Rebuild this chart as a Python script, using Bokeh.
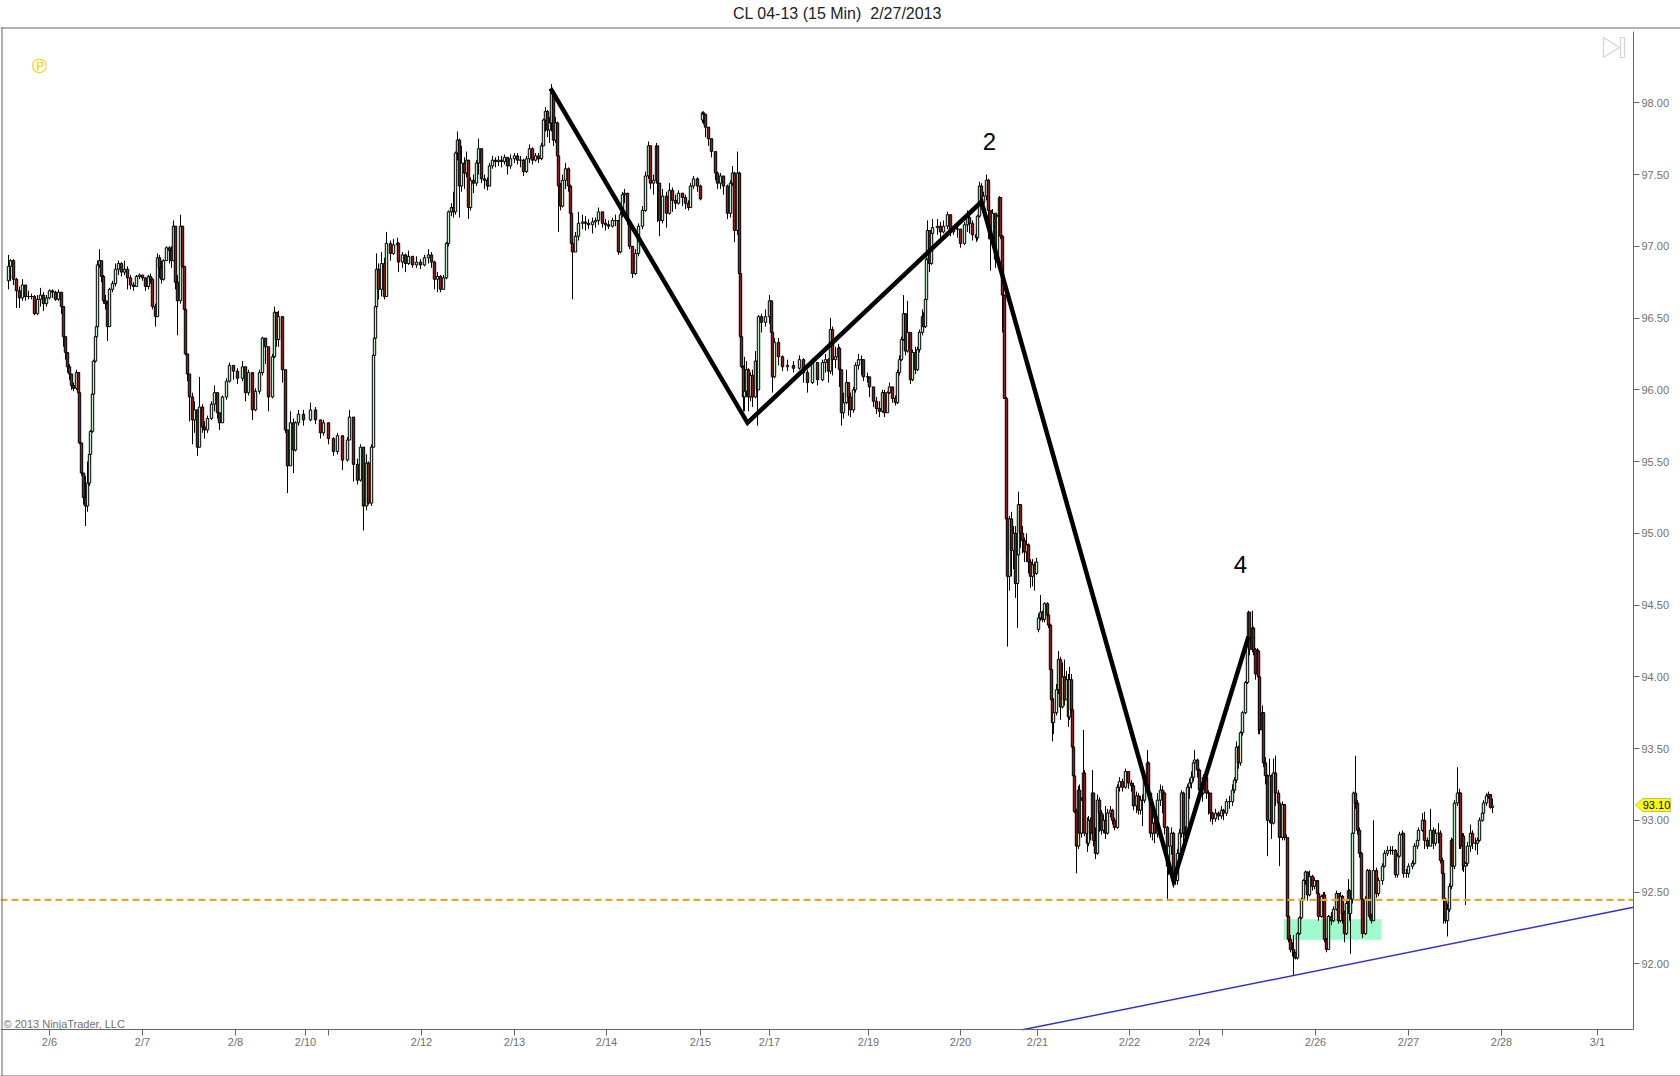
from bokeh.plotting import figure
from bokeh.models import (Range1d, FixedTicker, NumeralTickFormatter, Label, BoxAnnotation,
                          PolyAnnotation, ColumnDataSource, LinearAxis)
from bokeh.embed import file_html
from bokeh.resources import INLINE

TITLE = "CL 04-13 (15 Min)\u00a0 2/27/2013"
COPY = "\u00a9 2013 NinjaTrader, LLC"

tick_pos = [49,142,235,305,328,421,514,606,700,769,868,960,1037,1129,1199,1222,1315,1408,1501,1597]
tick_txt = ["2/6","2/7","2/8","2/10","","2/12","2/13","2/14","2/15","2/17","2/19","2/20","2/21","2/22","2/24","","2/26","2/27","2/28","3/1"]
price_ticks = [92.0,92.5,93.0,93.5,94.0,94.5,95.0,95.5,96.0,96.5,97.0,97.5,98.0]

a_open = 96.76
a_x = [8,10,13,16,19,22,25,28,31,34, 37,40,43,46,49,52,55,58,61,63, 65,67,69,71,73,76,78,79,81,83,
 85,87,89,90,92,93,95,96,97,99, 101,103,105,107,109,112,115,118,121,124, 127,130,133,136,139,142,145,148,150,152,
 155,157,159,161,163,166,169,171,173,175, 177,180,182,184,185,187,189,192,194,197, 199,202,204,207,211,214,217,219,222,226,
 229,233,237,242,245,248,252,255,259,262, 265,268,272,274,276,278,282,285,287,290, 293,295,298,303,310,315,320,323,328,333,
 337,342,347,349,353,357,360,363,366,368, 371,373,374,375,376,378,381,384,386,390, 393,397,398,402,405,408,412,416,420,424,
 428,431,434,437,440,443,446,448,451,453, 455,457,459,461,464,466,468,470,473,476, 478,481,484,487,489,492,495,498,501,504,
 507,510,514,517,520,523,526,529,532,535, 538,541,543,545,547,549,551,553,555,557, 558,560,562,565,568,570,571,572,575,578,
 582,585,588,592,595,598,602,605,608,612, 615,618,620,622,624,627,629,632,635,638, 642,645,648,650,653,656,657,659,662,666,
 669,672,675,678,682,685,688,690,693,697, 700]
a_close = [96.86,96.90,96.77,96.69,96.64,96.73,96.65,96.65,96.65,96.53, 96.63,96.66,96.60,96.64,96.69,96.68,96.63,96.68,96.58,96.37,
 96.26,96.16,96.11,96.03,96.01,96.12,95.98,95.63,95.42,95.25, 95.19,95.35,95.55,95.71,95.97,96.20,96.37,96.44,96.87,96.90,
 96.79,96.62,96.60,96.44,96.70,96.74,96.84,96.88,96.82,96.84, 96.78,96.73,96.72,96.79,96.80,96.78,96.72,96.79,96.77,96.58,
 96.51,96.92,96.85,96.77,96.90,96.99,96.97,96.90,97.14,96.75, 96.62,97.14,96.86,96.56,96.25,96.11,95.95,95.79,95.86,95.60,
 95.88,95.74,95.72,95.80,95.90,95.98,95.84,95.77,95.95,96.06, 96.17,96.13,96.08,96.16,95.98,96.12,95.86,95.99,96.12,96.36,
 96.30,95.95,96.23,96.54,96.35,96.51,96.14,95.72,95.47,95.77, 95.58,95.77,95.83,95.79,95.86,95.79,95.70,95.77,95.66,95.57,
 95.68,95.51,95.65,95.81,95.48,95.37,95.60,95.19,95.49,95.21, 95.60,96.24,96.36,96.58,96.84,96.70,96.88,96.65,97.02,96.95,
 97.01,97.02,96.89,96.94,96.88,96.93,96.87,96.89,96.87,96.92, 96.94,96.89,96.77,96.79,96.70,96.78,97.02,97.24,97.27,97.24,
 97.65,97.74,97.42,97.58,97.51,97.60,97.27,97.46,97.44,97.58, 97.68,97.47,97.46,97.42,97.56,97.60,97.59,97.60,97.59,97.62,
 97.56,97.61,97.63,97.60,97.60,97.52,97.61,97.68,97.60,97.63, 97.61,97.70,97.88,97.94,97.81,97.86,98.07,97.74,97.86,97.63,
 97.42,97.28,97.46,97.54,97.42,97.23,97.02,96.96,97.07,97.16, 97.17,97.16,97.15,97.17,97.18,97.24,97.16,97.15,97.14,97.18,
 97.18,96.96,97.22,97.36,97.37,97.18,97.00,96.81,96.95,97.14, 97.25,97.49,97.70,97.44,97.46,97.70,97.44,97.18,97.35,97.23,
 97.39,97.32,97.30,97.37,97.34,97.30,97.27,97.42,97.47,97.42, 97.33]
a_high = [96.94,96.91,96.91,96.78,96.72,96.77,96.73,96.69,96.67,96.66, 96.66,96.71,96.68,96.66,96.70,96.70,96.69,96.70,96.68,96.58,
 96.37,96.26,96.18,96.11,96.05,96.14,96.11,95.98,95.63,95.40, 95.40,95.50,95.56,95.72,95.98,96.21,96.38,96.45,96.90,96.98,
 96.90,96.80,96.66,96.62,96.71,96.76,96.88,96.90,96.89,96.90, 96.86,96.80,96.75,96.80,96.81,96.80,96.78,96.80,96.81,96.78,
 96.60,96.95,96.94,96.90,96.91,97.00,97.00,97.00,97.18,97.14, 96.80,97.22,97.14,96.86,96.56,96.25,96.11,95.98,95.92,95.86,
 96.09,95.90,95.78,95.82,95.92,96.03,95.98,95.84,95.96,96.08, 96.19,96.17,96.15,96.20,96.16,96.14,96.12,96.01,96.14,96.37,
 96.36,96.30,96.25,96.58,96.54,96.55,96.51,96.14,95.72,95.85, 95.80,95.78,95.86,95.86,95.91,95.88,95.79,95.79,95.77,95.67,
 95.70,95.68,95.67,95.86,95.81,95.52,95.62,95.60,95.55,95.50, 95.62,96.25,96.37,96.59,96.95,96.88,96.96,96.92,97.10,97.04,
 97.05,97.06,97.03,96.96,96.95,96.97,96.93,96.93,96.91,96.94, 96.98,96.96,96.90,96.82,96.80,96.80,97.03,97.25,97.30,97.38,
 97.66,97.80,97.75,97.70,97.62,97.66,97.60,97.48,97.50,97.60, 97.75,97.68,97.50,97.48,97.58,97.63,97.62,97.63,97.63,97.64,
 97.62,97.64,97.65,97.65,97.63,97.61,97.63,97.71,97.69,97.65, 97.65,97.72,97.89,97.97,97.95,97.90,98.13,98.07,97.90,97.87,
 97.63,97.44,97.50,97.58,97.55,97.43,97.24,97.03,97.10,97.24, 97.22,97.21,97.19,97.20,97.20,97.27,97.24,97.19,97.18,97.20,
 97.22,97.18,97.24,97.38,97.40,97.37,97.18,97.00,96.98,97.16, 97.28,97.52,97.73,97.70,97.50,97.72,97.70,97.44,97.40,97.38,
 97.44,97.41,97.36,97.39,97.37,97.36,97.32,97.44,97.49,97.48, 97.43]
a_low = [96.70,96.76,96.73,96.57,96.57,96.62,96.62,96.63,96.63,96.52, 96.52,96.58,96.55,96.58,96.63,96.64,96.62,96.62,96.53,96.30,
 96.21,96.12,96.07,96.00,95.99,96.00,95.97,95.62,95.40,95.20, 95.05,95.15,95.33,95.50,95.70,95.96,96.19,96.36,96.43,96.85,
 96.75,96.60,96.56,96.34,96.44,96.68,96.72,96.80,96.79,96.80, 96.70,96.70,96.69,96.72,96.77,96.76,96.69,96.70,96.74,96.56,
 96.44,96.51,96.78,96.74,96.76,96.90,96.88,96.85,96.90,96.70, 96.38,96.60,96.85,96.55,96.24,96.06,95.78,95.62,95.70,95.54,
 95.60,95.70,95.66,95.70,95.79,95.85,95.80,95.72,95.77,95.93, 96.05,96.07,96.04,96.06,95.92,95.96,95.79,95.85,95.97,96.10,
 96.18,95.85,95.94,96.22,96.30,96.30,96.05,95.70,95.28,95.47, 95.42,95.57,95.75,95.75,95.78,95.76,95.66,95.68,95.62,95.54,
 95.55,95.44,95.50,95.65,95.36,95.34,95.36,95.02,95.16,95.20, 95.19,95.60,96.23,96.35,96.56,96.63,96.65,96.63,96.65,96.90,
 96.94,96.98,96.82,96.85,96.82,96.87,96.85,96.85,96.84,96.86, 96.88,96.85,96.70,96.68,96.68,96.70,96.77,97.00,97.21,97.20,
 97.22,97.60,97.20,97.38,97.40,97.48,97.19,97.25,97.37,97.42, 97.50,97.44,97.40,97.39,97.42,97.54,97.55,97.56,97.55,97.57,
 97.50,97.54,97.58,97.57,97.55,97.49,97.51,97.58,97.57,97.59, 97.58,97.60,97.70,97.80,97.76,97.72,97.80,97.70,97.72,97.56,
 97.10,97.25,97.27,97.40,97.38,97.20,97.00,96.63,96.96,97.04, 97.12,97.11,97.12,97.09,97.13,97.15,97.13,97.11,97.12,97.13,
 97.14,96.94,96.95,97.20,97.30,97.15,96.98,96.78,96.80,96.93, 97.12,97.24,97.47,97.40,97.36,97.44,97.17,97.07,97.16,97.13,
 97.22,97.24,97.26,97.29,97.28,97.26,97.25,97.27,97.40,97.38, 97.32]

b_open = 97.88
b_x = [702,703,705,708,711,715,717,720,723,727, 730,732,734,737,739,740,741,743,744,746, 748,750,752,755,757,758,761,765,769,771,
 772,774,778,782,787,793,799,803,807,812, 817,822,825,828,830,832,835,838,839,841, 843,846,848,850,853,855,858,861,863,867,
 869,873,876,879,882,884,887,889,892,895, 897,899,901,903,905,907,910,912,915,917, 919,922,923,925,926,927,929,931,932,937,
 940,943,947,950,953,957,960,964,967,969, 972,976,977,979,981,983,986,988,990,992, 995,997,999,1000,1002,1004,1006,1007,1009,1011,
 1013,1015,1017,1018,1020,1022,1024,1026,1028,1030, 1032,1034,1036]
b_close = [97.93,97.92,97.83,97.75,97.66,97.51,97.44,97.49,97.42,97.23, 97.44,97.51,97.11,97.51,96.81,96.37,96.16,95.95,95.99,96.14,
 95.95,96.10,95.95,96.20,96.00,96.51,96.47,96.51,96.62,96.40, 96.09,96.33,96.23,96.16,96.17,96.15,96.21,96.12,96.05,96.19,
 96.07,96.19,96.21,96.13,96.42,96.21,96.23,96.29,96.14,95.84, 95.91,96.05,95.95,95.86,96.00,96.17,96.21,96.21,96.09,96.09,
 96.02,95.92,95.87,95.85,95.98,95.84,95.98,96.02,95.94,95.91, 96.12,96.21,96.35,96.53,96.27,96.40,96.07,96.26,96.14,96.28,
 96.40,96.51,96.44,96.63,96.91,97.11,96.88,97.09,97.13,97.14, 97.10,97.14,97.22,97.10,97.12,97.12,97.02,97.15,97.20,97.16,
 97.08,97.06,97.21,97.42,97.30,97.35,97.46,97.25,97.05,97.23, 96.91,97.21,97.34,97.07,96.66,95.94,95.10,94.70,95.10,94.88,
 95.00,94.65,94.85,95.20,95.00,94.95,94.87,94.92,94.80,94.70, 94.78,94.72,94.80]
b_high = [97.94,97.94,97.92,97.83,97.75,97.66,97.52,97.51,97.49,97.43, 97.46,97.56,97.52,97.66,97.52,96.81,96.37,96.17,96.23,96.20,
 96.15,96.12,96.14,96.27,96.22,96.52,96.53,96.56,96.66,96.62, 96.40,96.36,96.36,96.24,96.21,96.20,96.24,96.22,96.14,96.22,
 96.19,96.21,96.25,96.22,96.50,96.44,96.30,96.32,96.30,96.14, 95.98,96.14,96.05,95.98,96.02,96.19,96.25,96.24,96.21,96.12,
 96.09,96.02,95.95,95.92,96.00,96.00,95.99,96.05,96.02,95.96, 96.14,96.24,96.37,96.66,96.53,96.62,96.40,96.28,96.30,96.30,
 96.42,96.56,96.54,96.64,96.92,97.18,97.11,97.11,97.19,97.19, 97.17,97.18,97.24,97.22,97.14,97.15,97.12,97.17,97.25,97.22,
 97.18,97.12,97.22,97.45,97.44,97.38,97.50,97.47,97.25,97.26, 97.23,97.22,97.35,97.34,97.08,96.66,95.95,95.11,95.12,95.15,
 95.05,95.05,94.95,95.29,95.20,95.05,94.97,95.00,94.93,94.82, 94.82,94.80,94.83]
b_low = [97.86,97.85,97.76,97.70,97.62,97.46,97.40,97.40,97.36,97.19, 97.20,97.42,97.03,97.08,96.78,96.36,96.15,95.85,95.85,95.95,
 95.85,95.92,95.88,95.94,95.75,96.00,96.40,96.44,96.46,96.38, 95.98,96.08,96.17,96.13,96.13,96.12,96.14,96.05,95.98,96.04,
 96.03,96.06,96.12,96.05,96.11,96.10,96.15,96.20,96.02,95.75, 95.80,95.90,95.82,95.81,95.84,95.98,96.14,96.10,96.06,96.05,
 95.95,95.88,95.83,95.81,95.84,95.81,95.84,95.97,95.91,95.89, 95.90,96.10,96.20,96.34,96.24,96.26,96.04,96.06,96.11,96.13,
 96.26,96.38,96.43,96.43,96.62,96.88,96.82,96.87,97.05,97.08, 97.06,97.09,97.12,97.07,97.08,97.06,96.99,97.01,97.10,97.09,
 97.04,97.03,97.04,97.20,97.26,97.26,97.32,97.05,96.83,97.03, 96.85,96.90,97.20,97.05,96.40,95.94,94.85,94.21,94.60,94.70,
 94.75,94.55,94.34,94.85,94.90,94.86,94.80,94.80,94.72,94.62, 94.63,94.60,94.71]

c_open = 94.33
c_x = [1038,1040,1042,1044,1047,1048,1050,1051,1052,1053, 1056,1058,1060,1062,1064,1066,1068,1069,1071,1072,
 1073,1074,1076,1078,1079,1081,1083,1084,1087,1088, 1090,1092,1093,1095,1097,1099,1101,1103,1105,1107,
 1110,1112,1114,1117,1119,1122,1125,1128,1131,1133, 1136,1138,1140,1142,1144,1147,1148,1150,1152,1154,
 1157,1160,1162,1164,1167,1168,1171,1173,1175,1177, 1179,1181,1183,1185,1187,1189,1191,1193,1194,1197,
 1199,1202,1203,1206,1208,1210,1212,1215,1218,1221, 1223,1226,1229,1232,1234,1236,1238,1240,1242,1245,
 1247,1248,1249,1252,1253,1255,1257,1258,1259,1262, 1263,1265,1267,1269,1271,1273,1275,1278,1279,1282,
 1284,1286,1287,1288,1290,1292,1293,1295,1297,1299, 1301,1303,1305,1307,1309,1312,1314,1317,1318,1321,
 1323,1324,1326,1328,1331,1333,1336,1338,1340,1342, 1344,1346,1348,1349,1350,1352,1353,1355,1357,1359,
 1361,1362,1365,1367,1369,1371,1373,1376,1378,1382, 1384,1387,1390,1392,1395,1397,1399,1402,1403,1406,
 1408,1412,1414,1417,1418,1422,1424,1427,1430,1433, 1435,1438,1440,1442,1443,1445,1447,1449,1451,1452,
 1454,1457,1459,1460,1462,1463,1465,1467,1470,1472, 1475,1477,1479,1482,1483,1486,1488,1490,1492]
c_close = [94.41,94.45,94.40,94.51,94.43,94.36,94.05,93.84,93.68,93.75, 93.91,94.12,93.79,94.00,93.84,93.98,93.72,93.98,93.77,93.51,
 93.31,93.06,92.82,93.21,92.91,93.14,93.33,92.91,92.84,93.00, 92.91,93.19,92.86,92.77,93.14,93.05,92.93,93.00,92.91,93.05,
 93.07,93.00,92.95,93.23,93.27,93.23,93.34,93.26,93.24,93.10, 93.17,93.07,93.14,93.14,93.30,93.40,93.19,92.91,92.98,92.91,
 93.14,93.21,93.19,92.95,92.68,92.82,92.91,92.61,92.58,92.77, 92.91,93.19,92.91,92.89,93.23,93.26,93.30,93.40,93.42,93.35,
 93.21,93.19,93.30,93.19,93.19,93.05,93.01,93.05,93.03,93.07, 93.05,93.13,93.13,93.21,93.28,93.51,93.40,93.61,93.75,93.96,
 94.21,94.45,94.19,94.34,94.19,94.02,94.18,94.00,93.63,93.75, 93.40,93.31,93.00,93.31,92.98,93.33,93.19,93.12,92.88,93.11,
 92.88,92.88,92.33,92.17,92.10,92.10,92.08,92.04,92.21,92.32, 92.45,92.58,92.64,92.48,92.61,92.54,92.58,92.49,92.33,92.47,
 92.48,92.17,92.10,92.33,92.30,92.38,92.49,92.30,92.47,92.35, 92.21,92.42,92.51,92.35,92.45,92.91,93.19,93.12,92.93,92.77,
 92.45,92.21,92.45,92.65,92.33,92.30,92.65,92.49,92.58,92.68, 92.77,92.79,92.79,92.79,92.62,92.75,92.90,92.91,92.63,92.63,
 92.68,92.70,92.82,92.86,92.93,93.00,92.86,92.82,92.93,92.84, 92.91,92.91,92.72,92.63,92.45,92.30,92.38,92.54,92.86,92.68,
 93.12,93.19,93.19,92.82,92.89,92.68,92.70,92.82,92.91,92.84, 92.84,92.86,93.00,93.05,93.12,93.17,93.18,93.09,93.10]
c_high = [94.44,94.57,94.46,94.52,94.52,94.44,94.37,94.05,93.85,93.85, 93.95,94.18,94.14,94.10,94.12,94.04,94.02,94.07,94.02,93.80,
 93.52,93.32,93.08,93.24,93.25,93.16,93.63,93.35,93.02,93.03, 93.02,93.35,93.19,92.95,93.18,93.16,93.07,93.04,93.10,93.08,
 93.10,93.08,93.02,93.25,93.30,93.29,93.36,93.33,93.28,93.26, 93.20,93.19,93.17,93.18,93.32,93.49,93.41,93.20,93.05,93.03,
 93.19,93.25,93.24,93.20,92.96,92.85,92.95,92.92,92.64,92.80, 92.94,93.21,93.20,92.96,93.25,93.29,93.34,93.42,93.49,93.43,
 93.36,93.24,93.32,93.32,93.21,93.19,93.06,93.08,93.06,93.10, 93.08,93.15,93.17,93.25,93.30,93.55,93.52,93.62,93.76,93.97,
 94.22,94.46,94.45,94.46,94.35,94.20,94.20,94.19,94.00,93.80, 93.75,93.44,93.32,93.43,93.32,93.43,93.45,93.21,93.13,93.13,
 93.10,92.90,92.88,92.34,92.20,92.15,92.20,92.08,92.22,92.33, 92.46,92.59,92.65,92.64,92.65,92.62,92.60,92.58,92.50,92.48,
 92.50,92.50,92.18,92.34,92.36,92.40,92.51,92.49,92.50,92.48, 92.37,92.44,92.59,92.52,92.47,92.92,93.20,93.45,93.14,92.95,
 92.78,92.46,92.47,92.66,92.66,92.35,93.00,92.67,92.60,92.70, 92.79,92.82,92.82,92.82,92.80,92.77,92.92,92.93,92.91,92.66,
 92.70,92.72,92.84,92.88,92.95,93.05,93.06,92.88,93.08,92.95, 92.94,92.98,92.93,92.74,92.64,92.46,92.42,92.56,92.88,92.87,
 93.14,93.37,93.22,93.19,92.91,92.91,92.71,92.85,92.97,92.93, 92.88,92.88,93.02,93.07,93.14,93.19,93.20,93.18,93.15]
c_low = [94.31,94.39,94.38,94.38,94.41,94.34,94.04,93.83,93.55,93.60, 93.73,93.88,93.70,93.78,93.80,93.84,93.65,93.70,93.74,93.48,
 93.30,93.05,92.63,92.80,92.88,92.88,93.12,92.89,92.78,92.82, 92.86,92.90,92.82,92.73,92.76,92.92,92.90,92.91,92.87,92.90,
 93.02,92.97,92.93,92.94,93.20,93.20,93.22,93.22,93.20,93.07, 93.05,93.04,93.04,92.96,93.12,93.28,93.17,92.88,92.86,92.84,
 92.88,93.10,93.05,92.90,92.45,92.62,92.76,92.59,92.55,92.55, 92.74,92.88,92.82,92.82,92.88,93.15,93.22,93.27,93.34,93.30,
 93.18,93.13,93.18,93.15,93.04,92.99,92.97,92.99,93.00,93.01, 93.00,93.03,93.08,93.10,93.19,93.26,93.36,93.38,93.59,93.74,
 93.95,94.10,94.15,94.17,94.15,93.98,94.00,93.60,93.60,93.60, 93.37,93.25,92.75,92.98,92.87,92.97,93.10,93.05,92.68,92.86,
 92.86,92.86,92.32,92.15,92.08,92.05,91.92,92.03,92.03,92.20, 92.31,92.44,92.55,92.44,92.47,92.51,92.52,92.47,92.30,92.32,
 92.38,92.15,92.08,92.10,92.27,92.29,92.37,92.28,92.29,92.28, 92.15,92.20,92.42,92.30,92.07,92.42,92.89,93.08,92.90,92.74,
 92.43,92.18,92.20,92.44,92.31,92.28,92.30,92.46,92.47,92.55, 92.67,92.75,92.76,92.76,92.60,92.60,92.74,92.88,92.60,92.60,
 92.60,92.66,92.69,92.80,92.85,92.92,92.80,92.80,92.82,92.80, 92.82,92.84,92.70,92.60,92.28,92.28,92.19,92.36,92.52,92.65,
 92.66,93.10,92.80,92.80,92.65,92.64,92.41,92.68,92.78,92.80, 92.79,92.76,92.85,92.99,93.02,93.10,93.15,93.08,93.05]

wave_x = [550,747,981,1173,1248]
wave_p = [98.10,95.77,97.31,92.58,94.28]
wave_label_x = [989,1240]
wave_label_p = [97.73,94.78]
wave_label_t = ["2","4"]
support_p = 92.445
trend_x = [1022,1633]
trend_p = [91.54,92.394]
zone_x = [1283,1381]
zone_p = [92.167,92.31]
last_price = 93.10

def build(opn, xs, cl, hi, lo):
    o = [opn] + cl[:-1]
    return dict(x=xs, open=o, close=cl, high=hi, low=lo,
                top=[max(a, b) for a, b in zip(o, cl)],
                bottom=[min(a, b) for a, b in zip(o, cl)],
                color=["#bdf0c6" if b >= a else "#8e1a1a" for a, b in zip(o, cl)])

# The frame covers the whole canvas; both axes sit at fixed places inside it.
p = figure(width=1680, height=1076, output_backend="svg", toolbar_location=None,
           x_range=Range1d(0, 1680), y_range=Range1d(91.2145, 98.7128),
           x_axis_location=None, y_axis_location=None,
           min_border_left=0, min_border_top=0, min_border_bottom=0, min_border_right=0,
           outline_line_color=None, background_fill_color="white")
p.xgrid.visible = False
p.ygrid.visible = False

AX = "#666666"
xa = LinearAxis(fixed_location=91.54, bounds=(0, 1633))
xa.ticker = FixedTicker(ticks=tick_pos)
xa.major_label_overrides = {k: v for k, v in zip(tick_pos, tick_txt)}
ya = LinearAxis(fixed_location=1633, bounds=(91.54, 98.495))
ya.ticker = FixedTicker(ticks=price_ticks)
ya.formatter = NumeralTickFormatter(format="0.00")
for a in (xa, ya):
    a.major_tick_in = 0
    a.major_tick_out = 6
    a.minor_tick_out = 0
    a.minor_tick_in = 0
    a.axis_line_color = AX
    a.major_tick_line_color = AX
    a.major_label_text_color = "#707070"
    a.major_label_text_font = "Liberation Sans"
    a.major_label_text_font_size = "11px"
xa.major_label_standoff = 0
ya.major_label_standoff = 2
p.add_layout(xa, "below")
p.add_layout(ya, "right")

p.quad(left=[zone_x[0]], right=[zone_x[1]], bottom=[zone_p[0]], top=[zone_p[1]],
       fill_color="#9ffbcc", line_color=None)

for d in (build(a_open, a_x, a_close, a_high, a_low),
          build(b_open, b_x, b_close, b_high, b_low),
          build(c_open, c_x, c_close, c_high, c_low)):
    s = ColumnDataSource(d)
    p.segment("x", "high", "x", "low", source=s, line_color="black", line_width=1)
    p.vbar(x="x", width=2.4, top="top", bottom="bottom", source=s,
           fill_color="color", line_color="black", line_width=1)

p.line([0, 1633], [support_p, support_p], line_color="#e0a82e", line_width=2.2, line_dash="7 4")
p.line(trend_x, trend_p, line_color="#3333c4", line_width=1.5)
p.line(wave_x, wave_p, line_color="black", line_width=4.5, line_join="miter")
p.text(wave_label_x, wave_label_p, text=wave_label_t, text_align="center", text_baseline="middle",
       text_color="black", text_font_size="24px", text_font={"value": "Liberation Sans"})

def hbox(l, r, t, b):
    return BoxAnnotation(left=l, right=r, top=t, bottom=b, left_units="canvas", right_units="canvas",
                         top_units="canvas", bottom_units="canvas", fill_color=AX, line_color=None,
                         fill_alpha=1)
p.add_layout(hbox(0, 1680, 27, 28))
p.add_layout(hbox(0, 1680, 1075, 1076))
p.add_layout(hbox(1, 2, 27, 1076))
p.add_layout(Label(x=837, y=13, x_units="canvas", y_units="canvas", text=TITLE, text_align="center",
                   text_baseline="middle", text_font="Liberation Sans", text_font_size="16px",
                   text_color="#222222"))
p.add_layout(Label(x=3, y=1023, x_units="canvas", y_units="canvas", text=COPY, text_align="left",
                   text_baseline="middle", text_font="Liberation Sans", text_font_size="11px",
                   text_color="#707070"))
p.add_layout(Label(x=39, y=65, x_units="canvas", y_units="canvas", text="\u2117", text_align="center",
                   text_baseline="middle", text_font="DejaVu Sans", text_font_size="20px",
                   text_color="#f0d800"))
p.add_layout(PolyAnnotation(xs=[1603, 1603, 1619], ys=[37, 57, 47], xs_units="canvas", ys_units="canvas",
                            fill_alpha=0, line_color="#707070", line_width=1.2))
p.add_layout(BoxAnnotation(left=1620, right=1624, top=37, bottom=57, left_units="canvas", right_units="canvas",
                           top_units="canvas", bottom_units="canvas", fill_alpha=0, line_color="#707070",
                           line_width=1.2))
p.add_layout(PolyAnnotation(xs=[1635, 1642, 1670, 1670, 1642], ys=[804.5, 798, 798, 811, 811],
                            xs_units="canvas", ys_units="canvas", fill_color="#ffff00", fill_alpha=1,
                            line_color="#333333", line_width=1))
p.add_layout(Label(x=1656, y=804.5, x_units="canvas", y_units="canvas", text=f"{last_price:.2f}", text_align="center",
                   text_baseline="middle", text_font="Liberation Sans", text_font_size="11px",
                   text_color="#000000"))

open("out.html", "w").write(file_html(p, INLINE))
